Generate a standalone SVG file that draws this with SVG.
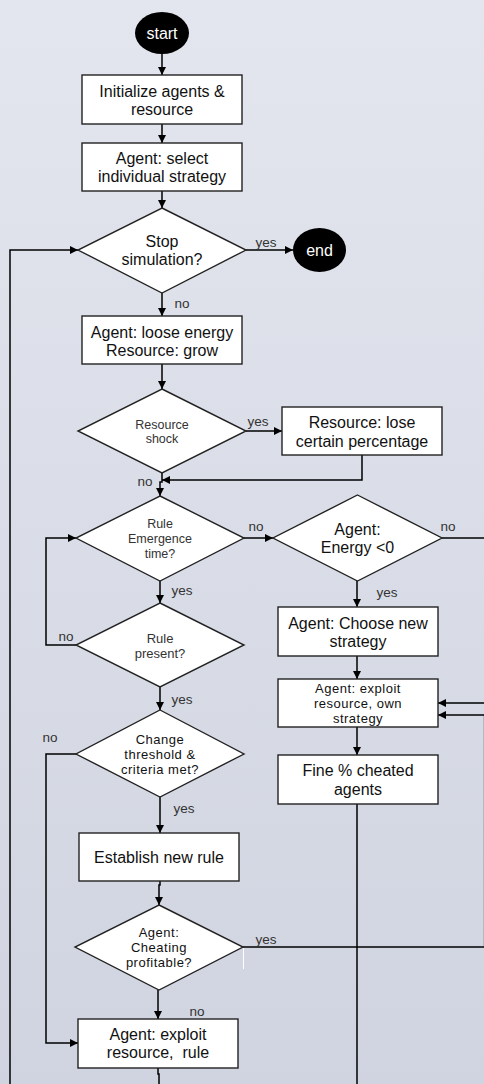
<svg xmlns="http://www.w3.org/2000/svg" width="484" height="1084" viewBox="0 0 484 1084">
<defs>
<linearGradient id="bg" x1="0" y1="0" x2="0" y2="1">
<stop offset="0" stop-color="#e3e6ee"/>
<stop offset="1" stop-color="#d0d4e0"/>
</linearGradient>
<marker id="ah" markerUnits="userSpaceOnUse" markerWidth="9" markerHeight="9" refX="8" refY="4" orient="auto">
<path d="M0,0 L8,4 L0,8 z" fill="#000"/>
</marker>
<style>
.box{fill:#fff;stroke:#222;stroke-width:1.4}
.dia{fill:#fff;stroke:#222;stroke-width:1.4}
.term{fill:#000}
.t{font-family:"Liberation Sans",Arial,sans-serif;font-size:16px;fill:#111;text-anchor:middle;white-space:pre}
.s{font-size:12.5px;fill:#333}
.m{font-size:13px;letter-spacing:0.5px}
.w{fill:#fff}
.lbl{font-family:"Liberation Sans",Arial,sans-serif;font-size:13.5px;fill:#333;text-anchor:middle}
.c{fill:none;stroke:#000;stroke-width:1.5}
.a{marker-end:url(#ah)}
</style>
</defs>
<rect width="484" height="1084" fill="url(#bg)"/>
<line x1="483.5" y1="715" x2="483.5" y2="947" stroke="#b4b8c4" stroke-width="1"/>

<g id="connectors">
<path class="c a" d="M162,54 V75"/>
<path class="c a" d="M162,124 V143"/>
<path class="c a" d="M162,191 V208"/>
<path class="c a" d="M246,250 H293"/>
<path class="c a" d="M162,293 V316"/>
<path class="c a" d="M162,364 V389"/>
<path class="c a" d="M246,431 H282"/>
<path class="c a" d="M362,455 V480 H162"/>
<path class="c a" d="M162,473 V482 H160 V496"/>
<path class="c a" d="M244,538 H273"/>
<path class="c" d="M442,538 H484"/>
<path class="c a" d="M484,703 H438"/>
<path class="c a" d="M484,715 H438"/>
<path class="c a" d="M160,581 V603"/>
<path class="c a" d="M76,645 H46 V538 H76"/>
<path class="c a" d="M160,687 V710"/>
<path class="c a" d="M76,754 H46 V1043 H78"/>
<path class="c a" d="M160,797 V833"/>
<path class="c a" d="M160,881 V885 H159 V905"/>
<path class="c" d="M243,947 H484"/>
<line x1="243.5" y1="948" x2="243.5" y2="969" stroke="#fff" stroke-width="1"/>
<path class="c a" d="M158,990 V1019"/>
<path class="c" d="M158,1068 V1074 H159 V1084"/>
<path class="c a" d="M357,581 V607"/>
<path class="c a" d="M357,656 V679"/>
<path class="c a" d="M357,727 V755"/>
<path class="c" d="M357,804 V1084"/>
<path class="c a" d="M10,1084 V250 H78"/>
</g>

<g id="labels">
<text class="lbl" x="266" y="247">yes</text>
<text class="lbl" x="182" y="308">no</text>
<text class="lbl" x="258" y="426">yes</text>
<text class="lbl" x="145" y="486">no</text>
<text class="lbl" x="256" y="531">no</text>
<text class="lbl" x="448" y="531">no</text>
<text class="lbl" x="182" y="595">yes</text>
<text class="lbl" x="387" y="597">yes</text>
<text class="lbl" x="66" y="641">no</text>
<text class="lbl" x="182" y="704">yes</text>
<text class="lbl" x="50" y="742">no</text>
<text class="lbl" x="184" y="813">yes</text>
<text class="lbl" x="266" y="944">yes</text>
<text class="lbl" x="197" y="1016">no</text>
</g>

<g id="start">
<ellipse class="term" cx="162" cy="33" rx="27" ry="21"/>
<text class="t w" x="162" y="38.5">start</text>
</g>

<g id="init">
<rect class="box" x="82" y="75" width="160" height="49"/>
<text class="t" x="162" y="96.5">Initialize agents &amp;</text>
<text class="t" x="162" y="114.5">resource</text>
</g>

<g id="select">
<rect class="box" x="82" y="143" width="160" height="48"/>
<text class="t" x="162" y="163.5">Agent: select</text>
<text class="t" x="162" y="181.5">individual strategy</text>
</g>

<g id="stop">
<polygon class="dia" points="162,208 246,250 162,293 78,250"/>
<text class="t" x="162" y="246.5">Stop</text>
<text class="t" x="162" y="264.5">simulation?</text>
</g>

<g id="end">
<ellipse class="term" cx="319.5" cy="250" rx="26.5" ry="22"/>
<text class="t w" x="319.5" y="255.5">end</text>
</g>

<g id="energy">
<rect class="box" x="82" y="316" width="160" height="48"/>
<text class="t" x="162" y="337.5">Agent: loose energy</text>
<text class="t" x="162" y="355.5">Resource: grow</text>
</g>

<g id="shock">
<polygon class="dia" points="162,389 246,431 162,473 78,431"/>
<text class="t s" x="162" y="428.5">Resource</text>
<text class="t s" x="162" y="442.5">shock</text>
</g>

<g id="lose">
<rect class="box" x="282" y="407" width="160" height="48"/>
<text class="t" x="362" y="427.5">Resource: lose</text>
<text class="t" x="362" y="446.5">certain percentage</text>
</g>

<g id="emergence">
<polygon class="dia" points="160,496 244,538 160,581 76,538"/>
<text class="t s" x="160" y="527.5">Rule</text>
<text class="t s" x="160" y="542.5">Emergence</text>
<text class="t s" x="160" y="557.5">time?</text>
</g>

<g id="energy0">
<polygon class="dia" points="357.5,495 442,538 357.5,581 273,538"/>
<text class="t" x="357.5" y="534.5">Agent:</text>
<text class="t" x="357.5" y="552.5">Energy &lt;0</text>
</g>

<g id="present">
<polygon class="dia" points="160,603 244,645 160,687 76,645"/>
<text class="t" style="font-size:13px;fill:#333" x="160" y="643">Rule</text>
<text class="t" style="font-size:13px;fill:#333" x="160" y="658">present?</text>
</g>

<g id="choose">
<rect class="box" x="278" y="607" width="160" height="49"/>
<text class="t" x="358" y="628.5">Agent: Choose new</text>
<text class="t" x="358" y="646.5">strategy</text>
</g>

<g id="exploitown">
<rect class="box" x="278" y="679" width="160" height="48"/>
<text class="t m" x="358" y="692.5">Agent: exploit</text>
<text class="t m" x="358" y="707.5">resource, own</text>
<text class="t m" x="358" y="722.5">strategy</text>
</g>

<g id="threshold">
<polygon class="dia" points="160,710 244,754 160,797 76,754"/>
<text class="t m" x="160" y="744">Change</text>
<text class="t m" x="160" y="759">threshold &amp;</text>
<text class="t m" x="160" y="774">criteria met?</text>
</g>

<g id="fine">
<rect class="box" x="278" y="755" width="160" height="49"/>
<text class="t" x="358" y="776">Fine % cheated</text>
<text class="t" x="358" y="794.5">agents</text>
</g>

<g id="establish">
<rect class="box" x="79" y="833" width="160" height="48"/>
<text class="t" x="159" y="862.5">Establish new rule</text>
</g>

<g id="cheating">
<polygon class="dia" points="159,905 243,947 159,990 75,947"/>
<text class="t m" x="159" y="936.5">Agent:</text>
<text class="t m" x="159" y="951.5">Cheating</text>
<text class="t m" x="159" y="966.5">profitable?</text>
</g>

<g id="exploitrule">
<rect class="box" x="78" y="1019" width="160" height="49"/>
<text class="t" x="158" y="1039.5">Agent: exploit</text>
<text class="t" x="158" y="1057.5">resource,  rule</text>
</g>
</svg>
